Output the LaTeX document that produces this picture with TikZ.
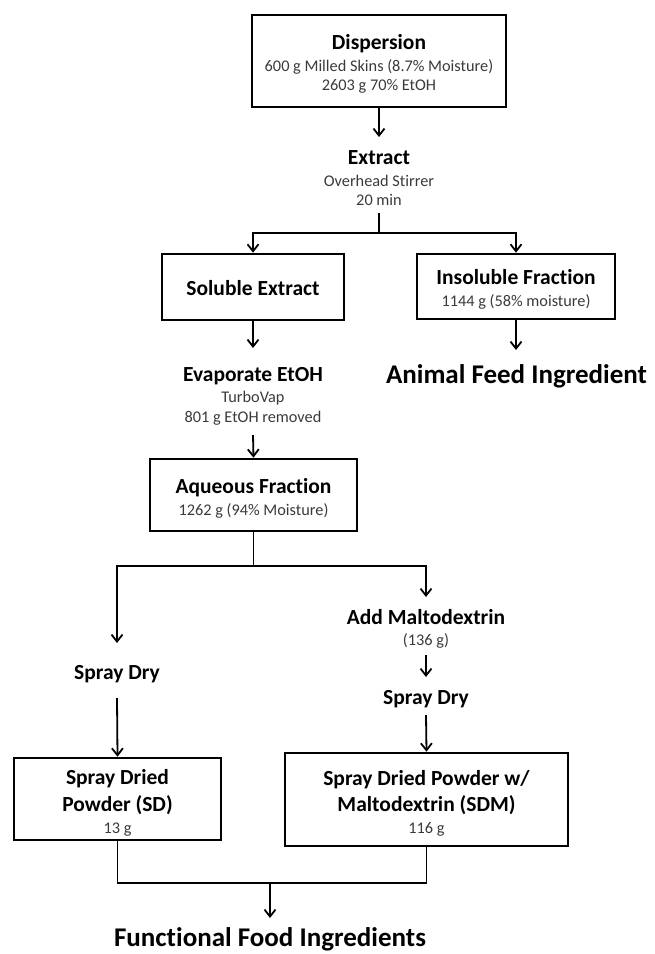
\documentclass[tikz,border=0pt]{standalone}
\usepackage{fontspec}
\setmainfont{Carlito}[Ligatures=NoCommon]
\usetikzlibrary{arrows.meta}
\definecolor{subgray}{HTML}{3A3A3A}
\tikzset{
  boxnode/.style={draw, line width=2.6pt, inner sep=0pt},
  ttl/.style={font=\fontsize{21.5}{24}\selectfont\bfseries, anchor=base, inner sep=0pt},
  subtxt/.style={font=\fontsize{16.3}{18}\selectfont, text=subgray, anchor=base, inner sep=0pt},
  bigtxt/.style={font=\fontsize{27}{30}\selectfont\bfseries, anchor=base, inner sep=0pt},
  conn/.style={line width=1.8pt},
  arr/.style={conn, -{Straight Barb[length=7pt,width=11pt]}}
}
\begin{document}
\begin{tikzpicture}[x=1pt,y=-1pt]
\useasboundingbox (0,0) rectangle (654,954);

% Dispersion
\node[boxnode, minimum width=254pt, minimum height=92pt] (disp) at (379,61) {};
\node[ttl] (dispT) at (379,49.5) {Dispersion};
\node[subtxt] (dispA) at (379,71.5) {600 g Milled Skins (8.7\% Moisture)};
\node[subtxt] (dispB) at (379,90.5) {2603 g 70\% EtOH};

% Extract
\coordinate (extTop) at (379,137);
\node[ttl] (ext) at (379,164) {Extract};
\node[subtxt] (extA) at (379,186) {Overhead Stirrer};
\node[subtxt] (extB) at (379,205) {20 min};
\coordinate (extBot) at (379,213);
\coordinate (splitA) at (379,233);

% Soluble / Insoluble
\node[boxnode, minimum width=182pt, minimum height=66pt] (sol) at (253,287) {};
\node[ttl] (solT) at (253,295) {Soluble Extract};
\node[boxnode, minimum width=198pt, minimum height=65pt] (ins) at (516,286.5) {};
\node[ttl] (insT) at (516,284.3) {Insoluble Fraction};
\node[subtxt] (insA) at (516,306) {1144 g (58\% moisture)};

% Evaporate
\coordinate (evTop) at (253,348);
\node[ttl] (ev) at (253,381) {Evaporate EtOH};
\node[subtxt] (evA) at (253,402) {TurboVap};
\node[subtxt] (evB) at (253,422) {801 g EtOH removed};
\coordinate (evBot) at (253,435);

% Animal feed
\coordinate (feedTop) at (516,350);
\node[bigtxt] (feed) at (516.5,383.5) {Animal Feed Ingredient};

% Aqueous
\node[boxnode, minimum width=207pt, minimum height=72pt] (aq) at (253.5,495) {};
\node[ttl] (aqT) at (253.5,493) {Aqueous Fraction};
\node[subtxt] (aqA) at (253.5,515) {1262 g (94\% Moisture)};
\coordinate (splitB) at (253.5,566);

% left branch
\coordinate (sdlTop) at (117,643);
\node[ttl] (sdl) at (117,679) {Spray Dry};
\coordinate (sdlBot) at (117,698);

% right branch
\coordinate (maltTop) at (426,597);
\node[ttl] (malt) at (426,624) {Add Maltodextrin};
\node[subtxt] (maltA) at (426,645) {(136 g)};
\coordinate (maltBot) at (426,655);
\coordinate (sdrTop) at (426,677);
\node[ttl] (sdr) at (426,704) {Spray Dry};
\coordinate (sdrBot) at (426,715);

% SD box
\node[boxnode, minimum width=207pt, minimum height=82pt] (sd) at (117.5,799) {};
\node[ttl] (sdT1) at (117.5,784) {Spray Dried};
\node[ttl] (sdT2) at (117.5,811.5) {Powder (SD)};
\node[subtxt] (sdA) at (117.5,833) {13 g};

% SDM box
\node[boxnode, minimum width=283pt, minimum height=93pt] (sdm) at (426.5,799.5) {};
\node[ttl] (sdmT1) at (426.5,785) {Spray Dried Powder w/};
\node[ttl] (sdmT2) at (426.5,811.5) {Maltodextrin (SDM)};
\node[subtxt] (sdmA) at (426.5,833) {116 g};

% Functional
\coordinate (join) at (270,883);
\coordinate (funTop) at (270,918);
\node[bigtxt] (fun) at (270,946) {Functional Food Ingredients};

% connectors
\draw[arr] (disp.south) -- (extTop);
\draw[conn] (extBot) -- (splitA);
\draw[arr] (splitA) -| (sol.north);
\draw[arr] (splitA) -| (ins.north);
\draw[arr] (sol.south) -- (evTop);
\draw[arr] (ins.south) -- (feedTop);
\draw[arr] (evBot) -- (aq.north);
\draw[conn] (aq.south) -- (splitB);
\draw[arr] (splitB) -| (sdlTop);
\draw[arr] (splitB) -| (maltTop);
\draw[arr] (maltBot) -- (sdrTop);
\draw[arr] (sdrBot) -- (sdm.north);
\draw[arr] (sdlBot) -- (sd.north);
\draw[conn] (sd.south) -- (sd.south |- join) -- (sdm.south |- join) -- (sdm.south);
\draw[arr] (join) -- (funTop);
\end{tikzpicture}
\end{document}
